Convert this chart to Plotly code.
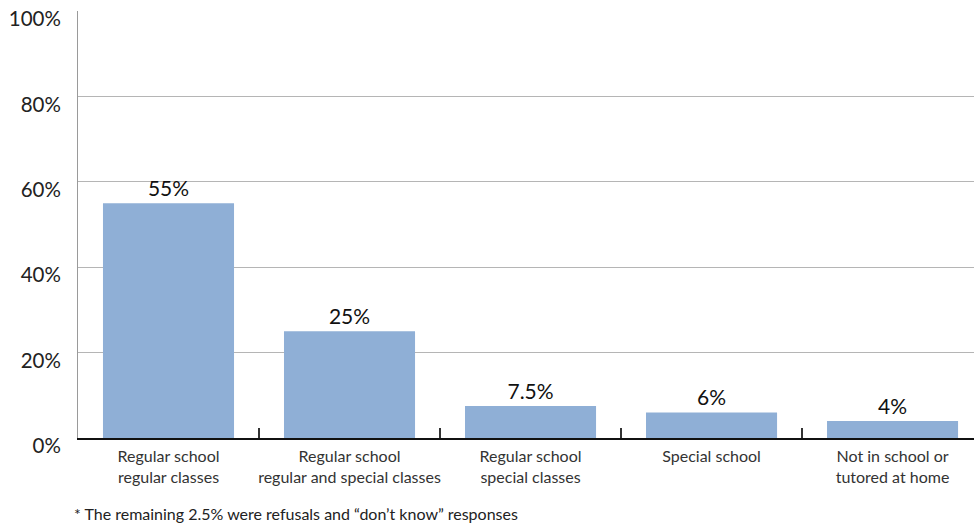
import plotly.graph_objects as go

categories = ["Regular school<br>regular classes",
              "Regular school<br>regular and special classes",
              "Regular school<br>special classes",
              "Special school",
              "Not in school or<br>tutored at home"]
values = [55, 25, 7.5, 6, 4]
value_labels = ["55%", "25%", "7.5%", "6%", "4%"]
y_ticks = [0, 20, 40, 60, 80, 100]
y_tick_labels = ["0%", "20%", "40%", "60%", "80%", "100%"]
footnote = "* The remaining 2.5% were refusals and \u201cdon\u2019t know\u201d responses"

FONT = "Lato"

fig = go.Figure(go.Bar(
    x=categories, y=values,
    marker=dict(color="#8fafd6", line=dict(width=0)),
    text=value_labels, textposition="outside",
    textfont=dict(family=FONT, size=21, color="#111"),
    cliponaxis=False,
))

fig.update_layout(
    width=974, height=523,
    margin=dict(l=78, r=0, t=11, b=85),
    paper_bgcolor="white", plot_bgcolor="white",
    bargap=0.276,
    showlegend=False,
    font=dict(family=FONT),
    xaxis=dict(
        range=[-0.5, 4.45],
        showline=True, linecolor="#111", linewidth=2,
        ticks="inside", tickson="boundaries", ticklen=10, tickcolor="#333", tickwidth=1.5,
        tickfont=dict(family=FONT, size=16, color="#333"),
        tickangle=0, automargin=False,
        showgrid=False, zeroline=False,
        ticklabelstandoff=3,
    ),
    yaxis=dict(
        range=[0, 100], tickvals=y_ticks, ticktext=y_tick_labels,
        showgrid=True, gridcolor="#b5b5b5", gridwidth=1,
        showline=True, linecolor="#9a9a9a", linewidth=1,
        zeroline=False, ticks="", automargin=False,
        tickfont=dict(family=FONT, size=20.5, color="#222"),
        ticklabelshift=8, ticklabelstandoff=12,
    ),
    annotations=[dict(
        text=footnote, x=0, y=0, xref="paper", yref="paper",
        showarrow=False, xanchor="left", yanchor="middle",
        font=dict(family=FONT, size=16, color="#222"),
    )],
)
# place footnote using pixel coordinates converted to paper
fig.layout.annotations[0].x = (72 - 78) / 896
fig.layout.annotations[0].y = (523 - 85 - 513) / 427

fig.write_html("out.html")
